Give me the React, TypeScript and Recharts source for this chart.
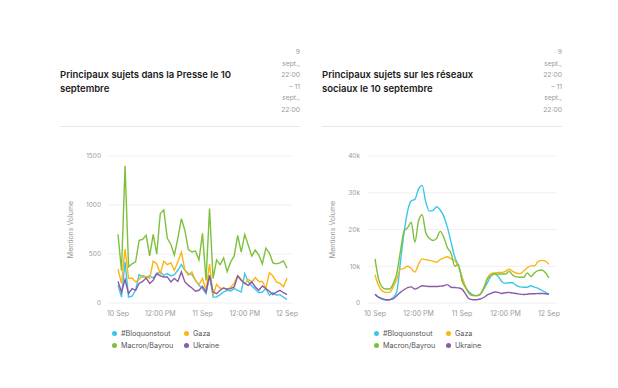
import { CartesianGrid, Line, LineChart, XAxis, YAxis } from "recharts";

const hours = Array.from({ length: 49 }, (_, i) => i);
const xTicks = [0, 12, 24, 36, 48];
const xTickLabels = ["10 Sep", "12:00 PM", "11 Sep", "12:00 PM", "12 Sep"];

const seriesNames = ["#Bloquonstout", "Gaza", "Macron/Bayrou", "Ukraine"];
const seriesKeys = ["bloq", "gaza", "macron", "ukraine"];
const seriesColors = ["#3ec6ea", "#fbb514", "#7cc13a", "#8a5aa8"];

// Presse (mentions / heure)
const presseBloq = [
  180, 60, 420, 60, 70, 130, 290, 266, 266, 276, 255, 300, 317, 283, 300, 276, 290,
  334, 392, 334, 300, 290, 232, 180, 150, 95, 283, 60, 60, 85, 112, 130, 123, 147,
  130, 112, 300, 215, 174, 140, 105, 112, 147, 80, 105, 80, 85, 60, 37,
];
const presseGaza = [
  344, 200, 550, 250, 255, 215, 240, 283, 266, 250, 426, 400, 300, 426, 392, 412, 334,
  420, 520, 334, 283, 317, 232, 188, 250, 130, 400, 80, 190, 150, 150, 140, 160, 200,
  280, 240, 200, 240, 215, 260, 220, 220, 150, 310, 275, 215, 200, 165, 255,
];
const presseMacron = [
  700, 330, 1400, 370, 400, 420, 640, 650, 690, 480, 700, 500, 910, 950, 660, 600, 490,
  660, 860, 740, 545, 520, 530, 440, 710, 230, 965, 250, 440, 390, 460, 320, 420, 480,
  690, 520, 700, 590, 480, 540, 490, 400, 560, 510, 410, 400, 410, 430, 355,
];
const presseUkraine = [
  220, 112, 240, 95, 147, 130, 200, 220, 255, 200, 232, 300, 276, 266, 266, 215, 250,
  220, 317, 215, 180, 153, 120, 130, 170, 112, 283, 112, 95, 130, 153, 140, 147, 164,
  276, 232, 200, 180, 215, 164, 130, 174, 147, 120, 85, 112, 130, 105, 85,
];

// Réseaux sociaux (milliers de mentions / heure)
const socialBloq = [
  2.4, 1.5, 1.0, 0.8, 0.9, 1.5, 3.0, 11, 19, 25, 27.8, 28.2, 31, 32, 27.5, 25, 25.2,
  26.2, 25.3, 23.5, 20.5, 16.5, 12.5, 10.2, 7, 4.2, 3, 2.2, 2, 2.3, 3.8, 5.5, 7.3, 7.9,
  7.2, 5.8, 5.4, 5.5, 5.5, 4.7, 4.4, 4.3, 4.3, 4.7, 4.3, 4, 3.4, 2.9, 2.4,
];
const socialGaza = [
  7.7, 4.7, 3.3, 2.9, 2.9, 4.3, 6.5, 9.2, 9.4, 10, 9.4, 8.4, 10.5, 12, 11.8, 11.6, 11.4,
  11.1, 11.8, 12.3, 12.6, 12, 11.5, 10, 7, 4.3, 2.6, 2.1, 2, 2.4, 4.2, 6.8, 8, 8.2, 8.3,
  8.3, 8.6, 9.2, 8.6, 8.1, 8, 8.7, 9.6, 10.1, 10.1, 11.3, 11.6, 11.4, 10.5,
];
const socialMacron = [
  12, 6.5, 4.3, 3.8, 3.8, 5.2, 8, 14, 19.5, 20.5, 22, 16.5, 22.3, 24, 19.2, 17.6, 17,
  17.6, 19.5, 17.8, 15, 13.5, 10, 10.5, 6, 4.3, 2.6, 2, 2, 2.4, 4, 6.5, 7.5, 7.9, 7.9,
  7.9, 7.9, 8.6, 7.6, 7.1, 7, 7, 8.2, 7.2, 8.2, 8.8, 9, 8.3, 6.8,
];
const socialUkraine = [
  2.4, 1.6, 1.2, 0.9, 0.9, 1.1, 2, 2.9, 3.6, 4.2, 4.4, 3.8, 4.2, 4.7, 4.6, 4.5, 4.5,
  4.5, 4.6, 4.7, 5, 4.3, 4.2, 4.1, 3.8, 2.4, 1.1, 0.9, 0.9, 1.1, 1.5, 2.2, 2.6, 3, 2.9,
  2.6, 2.8, 2.9, 2.7, 2.6, 2.4, 2.3, 2.4, 2.5, 2.5, 2.6, 2.6, 2.5, 2.4,
];

const presseData = hours.map((h, i) => ({
  h,
  bloq: presseBloq[i],
  gaza: presseGaza[i],
  macron: presseMacron[i],
  ukraine: presseUkraine[i],
}));

const socialData = hours.map((h, i) => ({
  h,
  bloq: socialBloq[i] * 1000,
  gaza: socialGaza[i] * 1000,
  macron: socialMacron[i] * 1000,
  ukraine: socialUkraine[i] * 1000,
}));

const FONT = "Inter, 'Noto Sans', sans-serif";
const axisTick = { fontSize: 6.5, fill: "#9a9a9a", fontFamily: FONT };

function DateRange() {
  const lines = ["9", "sept.,", "22:00", "– 11", "sept.,", "22:00"];
  return (
    <div style={{ textAlign: "right", fontSize: 6.8, lineHeight: "11.6px", color: "#9a9a9a" }}>
      {lines.map((l, i) => (
        <div key={i}>{l}</div>
      ))}
    </div>
  );
}

function ChartLegend({ left, top }: { left: number; top: number }) {
  const order = [0, 1, 2, 3];
  return (
    <div
      style={{
        position: "absolute",
        left,
        top,
        display: "grid",
        gridTemplateColumns: "72px 60px",
        rowGap: 3,
        fontSize: 7.2,
        color: "#555",
      }}
    >
      {order.map((k) => (
        <div key={k} style={{ display: "flex", alignItems: "center", height: 9 }}>
          <span
            style={{
              width: 5,
              height: 5,
              borderRadius: "50%",
              background: seriesColors[k],
              marginRight: 4,
            }}
          />
          {seriesNames[k]}
        </div>
      ))}
    </div>
  );
}

type Panel = {
  x: number;
  title: string;
  titleWidth: number;
  data: typeof presseData;
  domain: [number, number];
  yTicks: number[];
  yFmt: (v: number) => string;
  yWidth: number;
  curve: "linear" | "monotone";
  padL: number;
  padR: number;
  marginR: number;
};

function ChartPanel({ p }: { p: Panel }) {
  return (
    <>
      <div
        style={{
          position: "absolute",
          left: p.x,
          top: 60,
          width: p.titleWidth,
          fontSize: 9.5,
          fontWeight: 600,
          lineHeight: "14px",
          color: "#1b1b1b",
        }}
      >
        {p.title}
      </div>
      <div style={{ position: "absolute", left: p.x + 200, top: 38, width: 40 }}>
        <DateRange />
      </div>
      <div
        style={{
          position: "absolute",
          left: p.x,
          top: 118,
          width: 240,
          height: 1,
          background: "#e8e8e8",
        }}
      />
      <div style={{ position: "absolute", left: p.x, top: 138 }}>
        <LineChart
          width={240}
          height={181}
          data={p.data}
          margin={{ top: 10, right: p.marginR, bottom: 0, left: 0 }}
        >
          <CartesianGrid vertical={false} stroke="#efefef" />
          <XAxis
            dataKey="h"
            type="number"
            domain={[0, 48]}
            ticks={xTicks}
            interval={0}
            tickFormatter={(v: number) => xTickLabels[xTicks.indexOf(v)] ?? ""}
            tick={{ ...axisTick, fontSize: 7 }}
            tickLine={false}
            axisLine={false}
            height={24}
            padding={{ left: p.padL, right: p.padR }}
          />
          <YAxis
            domain={p.domain}
            ticks={p.yTicks}
            tickFormatter={p.yFmt}
            tick={axisTick}
            tickLine={false}
            axisLine={false}
            width={p.yWidth}
            label={{
              value: "Mentions Volume",
              angle: -90,
              position: "insideLeft",
              offset: 11,
              style: { textAnchor: "middle", fontSize: 7, fill: "#9a9a9a", fontFamily: FONT },
            }}
          />
          {seriesKeys.map((k, i) => (
            <Line
              key={k}
              type={p.curve}
              dataKey={k}
              name={seriesNames[i]}
              stroke={seriesColors[i]}
              strokeWidth={1.4}
              dot={false}
              isAnimationActive={false}
            />
          ))}
        </LineChart>
      </div>
      <ChartLegend left={p.x + 52} top={321} />
    </>
  );
}

const panels: Panel[] = [
  {
    x: 52,
    title: "Principaux sujets dans la Presse le 10 septembre",
    titleWidth: 212,
    data: presseData,
    domain: [0, 1500],
    yTicks: [0, 500, 1000, 1500],
    yFmt: (v) => String(v),
    yWidth: 49,
    curve: "linear",
    padL: 9,
    padR: 6,
    marginR: 7,
  },
  {
    x: 314,
    title: "Principaux sujets sur les réseaux sociaux le 10 septembre",
    titleWidth: 188,
    data: socialData,
    domain: [0, 40000],
    yTicks: [0, 10000, 20000, 30000, 40000],
    yFmt: (v) => (v === 0 ? "0" : `${v / 1000}k`),
    yWidth: 46,
    curve: "monotone",
    padL: 7,
    padR: 8,
    marginR: 5,
  },
];

export default function App() {
  return (
    <div
      style={{
        position: "relative",
        width: 602,
        height: 372,
        fontFamily: FONT,
        background: "#fff",
      }}
    >
      {panels.map((p) => (
        <ChartPanel key={p.x} p={p} />
      ))}
    </div>
  );
}
